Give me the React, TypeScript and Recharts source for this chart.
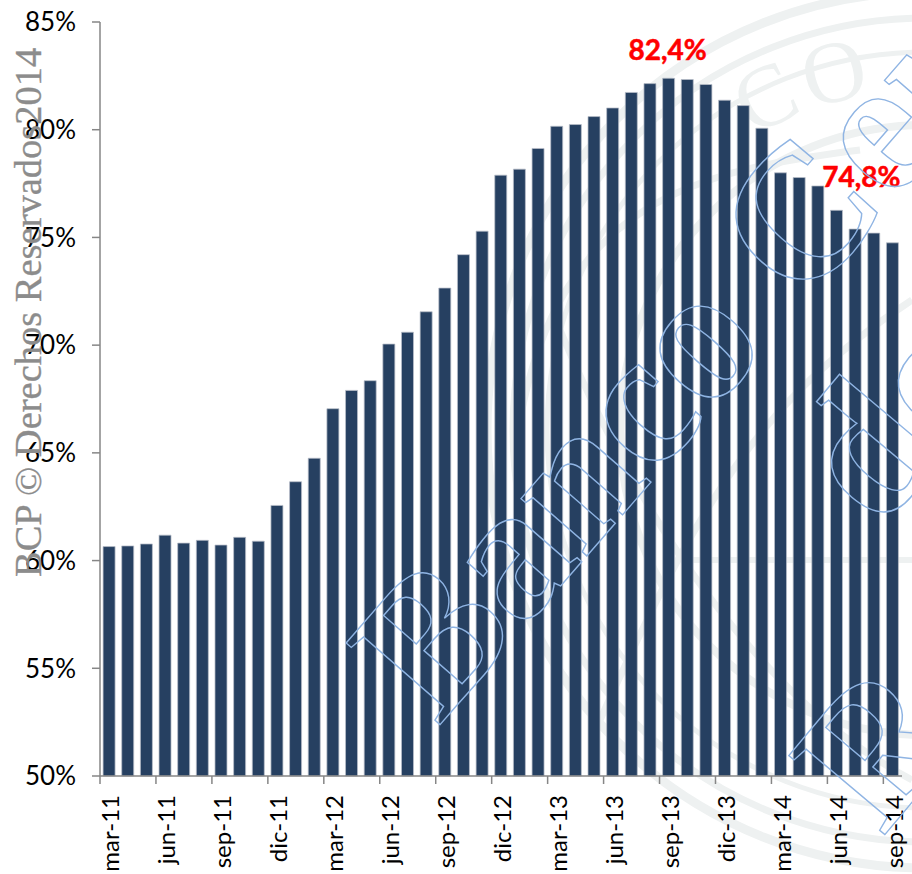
import { BarChart, Bar, XAxis, YAxis, LabelList } from 'recharts';

const months = [
  'mar-11', 'abr-11', 'may-11', 'jun-11', 'jul-11', 'ago-11', 'sep-11', 'oct-11', 'nov-11', 'dic-11', 'ene-12', 'feb-12',
  'mar-12', 'abr-12', 'may-12', 'jun-12', 'jul-12', 'ago-12', 'sep-12', 'oct-12', 'nov-12', 'dic-12', 'ene-13', 'feb-13',
  'mar-13', 'abr-13', 'may-13', 'jun-13', 'jul-13', 'ago-13', 'sep-13', 'oct-13', 'nov-13', 'dic-13', 'ene-14', 'feb-14',
  'mar-14', 'abr-14', 'may-14', 'jun-14', 'jul-14', 'ago-14', 'sep-14',
];
const values = [
  60.65, 60.68, 60.77, 61.18, 60.81, 60.94, 60.72, 61.08, 60.9, 62.56, 63.66, 64.75,
  67.05, 67.9, 68.35, 70.05, 70.6, 71.55, 72.65, 74.2, 75.29, 77.89, 78.17, 79.13,
  80.16, 80.24, 80.61, 81.01, 81.73, 82.14, 82.39, 82.33, 82.1, 81.37, 81.12, 80.07,
  78.0, 77.78, 77.39, 76.26, 75.39, 75.2, 74.75,
];
const yTicks = [50, 55, 60, 65, 70, 75, 80, 85];
const labelled: Record<string, string> = { 'sep-13': '82,4%', 'sep-14': '74,8%' };

const chartData = months.map((month, i) => ({ month, value: values[i] }));

const font = 'Lato, sans-serif';
const axisColor = '#868686';
const bandWidth = 802 / months.length;

// etiquetas giradas, con la marca en el borde de la banda
function MonthTick({ x, y, payload }: any) {
  return (
    <g>
      <line x1={x - bandWidth / 2} x2={x - bandWidth / 2} y1={y - 8} y2={y} stroke={axisColor} strokeWidth={1.5} />
      <text
        transform={`translate(${x + 10},${y + 11}) rotate(-90)`}
        textAnchor="end"
        fontSize={24}
        fontFamily={font}
        fill="#000"
      >
        {payload.value}
      </text>
    </g>
  );
}

function PeakLabel({ x, y, width, index }: any) {
  const text = labelled[months[index]];
  if (!text) return null;
  const last = index === months.length - 1;
  return (
    <text
      x={x + width / 2 + (last ? -31 : -1)}
      y={y + (last ? -56 : -18)}
      textAnchor="middle"
      fontSize={28}
      fontWeight={700}
      fontFamily={font}
      fill="#ff0000"
      stroke="#ff0000"
      strokeWidth={0.5}
    >
      {text}
    </text>
  );
}

function Seal() {
  const band = '#eef1f1';
  return (
    <svg width={912} height={874} style={{ position: 'absolute', left: 0, top: 0 }}>
      <g fill="none" stroke={band}>
        <circle cx={925} cy={430} r={438} strokeWidth={9} />
        <circle cx={925} cy={430} r={412} strokeWidth={7} />
        <circle cx={925} cy={430} r={378} strokeWidth={5} />
        <circle cx={925} cy={430} r={305} strokeWidth={8} />
        <path d="M520 420 C 560 200, 700 170, 860 150" strokeWidth={7} />
        <path d="M600 720 C 700 500, 760 400, 912 300" strokeWidth={7} />
        <path d="M560 330 C 640 520, 760 700, 912 780" strokeWidth={7} />
        <path d="M690 560 L 912 560" strokeWidth={6} />
      </g>
      <defs>
        <path id="sealArc" d="M 585 430 A 340 340 0 0 1 1265 430" />
      </defs>
      <text fontFamily="'Liberation Serif', serif" fontSize={88} fill={band} letterSpacing={6}>
        <textPath href="#sealArc" startOffset="33%">
          CO
        </textPath>
      </text>
    </svg>
  );
}

function Watermark() {
  const outline = {
    fontFamily: "'Liberation Serif', serif",
    fontWeight: 700,
    fontSize: 190,
    fill: 'none',
    stroke: '#8fb4e3',
    strokeWidth: 1.4,
  };
  return (
    <svg width={912} height={874} style={{ position: 'absolute', left: 0, top: 0, pointerEvents: 'none' }}>
      <text transform="translate(438,727) rotate(-49)" {...outline}>
        Banco Central
      </text>
      <text transform="translate(880,531) rotate(-50)" {...outline}>
        de
      </text>
      <text transform="translate(882,838) rotate(-50)" {...outline}>
        Re
      </text>
      <text
        transform="translate(41,577) rotate(-90)"
        fontFamily="'Liberation Serif', serif"
        fontSize={38.5}
        fill="#8c8c8c"
        stroke="#8c8c8c"
        strokeWidth={0.3}
      >
        BCP © Derechos Reservados2014
      </text>
    </svg>
  );
}

export default function App() {
  return (
    <div style={{ position: 'absolute', left: 0, top: 0, width: 912, height: 874, overflow: 'hidden', background: '#fff' }}>
      <Seal />
      <div style={{ position: 'absolute', left: 0, top: 0 }}>
        <BarChart
          width={912}
          height={874}
          data={chartData}
          margin={{ top: 22, right: 10, bottom: 0, left: 0 }}
          barCategoryGap="16.5%"
        >
          <XAxis
            dataKey="month"
            interval={2}
            height={98}
            tick={<MonthTick />}
            tickLine={false}
            stroke={axisColor}
            strokeWidth={1.5}
          />
          <YAxis
            width={100}
            domain={[50, 85]}
            ticks={yTicks}
            tickFormatter={(v: number) => `${v}%`}
            tickSize={8}
            tickMargin={16}
            stroke={axisColor}
            strokeWidth={1.5}
            tick={{ fill: '#000', fontSize: 26, fontFamily: font }}
          />
          <Bar dataKey="value" fill="#264061" stroke="#b9bfc9" strokeWidth={0.75} isAnimationActive={false}>
            <LabelList content={<PeakLabel />} />
          </Bar>
        </BarChart>
      </div>
      <Watermark />
    </div>
  );
}
